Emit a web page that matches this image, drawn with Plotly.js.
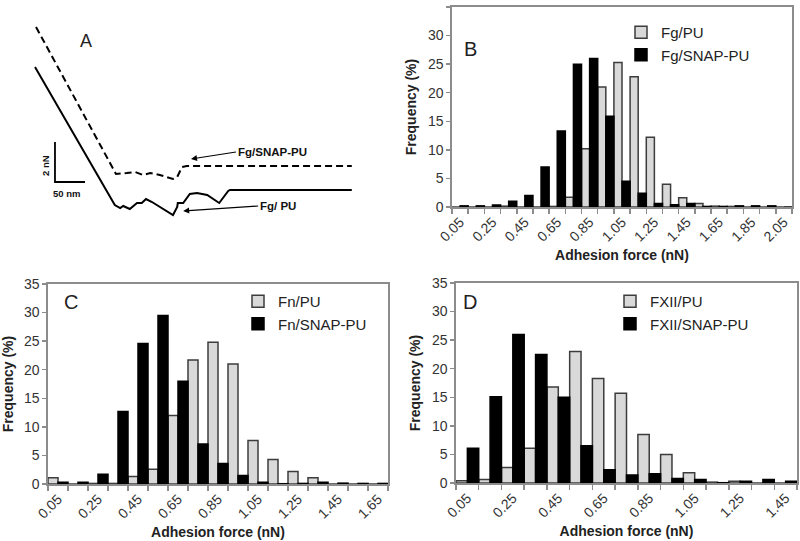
<!DOCTYPE html>
<html><head><meta charset="utf-8">
<script src="https://cdn.plot.ly/plotly-3.0.1.min.js"></script>
<style>html,body{margin:0;padding:0;background:#fff}#chart{width:800px;height:541px}</style>
</head><body><div id="chart"></div>
<script>
// ---------- Panel A: AFM retraction curves (distance nm, force nN) ----------
const aSnapX = [1.7, 135, 153, 167, 180, 192, 208, 230, 237, 245, 253, 528];
const aSnapY = [8.65, 1.3, 1.35, 1.4, 1.25, 1.35, 1.25, 1.05, 1.15, 1.65, 1.7, 1.7];
const aPuX = [0, 133, 142, 147, 158, 170, 178, 185, 195, 208, 230, 237, 238, 247, 258, 270, 287, 307, 313, 322, 325, 528];
const aPuY = [6.65, -0.25, -0.4, -0.3, -0.45, -0.15, -0.15, 0.05, -0.1, -0.35, -0.75, -0.35, -0.15, -0.15, 0.3, 0.35, 0.25, -0.15, 0.1, 0.45, 0.5, 0.5];
const scaleBarX = [33.3, 33.3, 83.3];   // 50 nm horizontal
const scaleBarY = [2.9, 0.9, 0.9];      // 2 nN vertical

// ---------- Panel B: Fg ----------
const bCats = ['0.05','0.15','0.25','0.35','0.45','0.55','0.65','0.75','0.85','0.95','1.05','1.15','1.25','1.35','1.45','1.55','1.65','1.75','1.85','1.95','2.05'];
const bPU   = [0, 0, 0, 0.15, 0, 0, 0.1, 1.7, 10.2, 21.0, 25.3, 22.8, 12.2, 4.0, 1.6, 0.6, 0.15, 0.1, 0, 0, 0];
const bSNAP = [0.2, 0.2, 0.35, 1.0, 2.0, 7.0, 13.3, 25.0, 26.0, 15.9, 4.5, 2.4, 0.6, 0.4, 0.6, 0.1, 0.1, 0.2, 0.2, 0.2, 0];

// ---------- Panel C: Fn ----------
const cCats = ['0.05','0.15','0.25','0.35','0.45','0.55','0.65','0.75','0.85','0.95','1.05','1.15','1.25','1.35','1.45','1.55','1.65'];
const cPU   = [1.1, 0, 0.1, 0.1, 1.3, 2.6, 12.0, 21.7, 24.8, 21.0, 7.6, 4.3, 2.2, 1.1, 0, 0, 0];
const cSNAP = [0.3, 0.3, 1.7, 12.7, 24.6, 29.5, 18.0, 7.0, 3.6, 1.5, 0.3, 0.05, 0.1, 0.3, 0.15, 0.1, 0.1];

// ---------- Panel D: FXII ----------
const dCats = ['0.05','0.15','0.25','0.35','0.45','0.55','0.65','0.75','0.85','0.95','1.05','1.15','1.25','1.35','1.45'];
const dPU   = [0.4, 0.6, 2.7, 6.1, 16.8, 23.0, 18.3, 15.7, 8.5, 5.0, 1.8, 0.15, 0.3, 0, 0];
const dSNAP = [6.1, 15.1, 26.0, 22.5, 15.0, 6.5, 2.3, 1.4, 1.6, 0.8, 0.6, 0.05, 0.3, 0.6, 0.3];

const FONT = 'Liberation Sans, Arial, sans-serif';
const AXC = '#8c8c8c';
const LIGHT = '#d9d9d9', LIGHTLINE = '#3c3c3c';

function everyOther(cats){ return cats.map((c,i)=> i%2===0 ? c : ''); }

function px(xp){ return xp/800; }
function py(yp){ return 1 - yp/541; }

function xAxis(dom, cats, anchor){
  return {domain: dom, type:'category', categoryorder:'array', categoryarray: cats,
    tickmode:'array', tickvals: cats, ticktext: everyOther(cats), tickson:'boundaries',
    ticks:'outside', ticklen:5, tickwidth:1.5, tickcolor:AXC, tickangle:-45,
    tickfont:{family:FONT, size:14, color:'#333'},
    showline:true, linecolor:AXC, linewidth:1.6, mirror:true, showgrid:false, zeroline:false,
    anchor: anchor, range:[-0.5, cats.length-0.5], fixedrange:true,
    title:{text:'Adhesion force (nN)', font:{family:FONT, size:14, color:'#222', weight:'bold'}, standoff:6}};
}
function yAxis(dom, anchor){
  return {domain: dom, range:[0,35], tick0:0, dtick:5, ticks:'outside', ticklen:4, tickwidth:1.5, tickcolor:AXC,
    tickfont:{family:FONT, size:14, color:'#333'},
    showline:true, linecolor:AXC, linewidth:1.6, mirror:true, showgrid:false, zeroline:false,
    anchor: anchor, fixedrange:true,
    title:{text:'Frequency (%)', font:{family:FONT, size:14, color:'#222', weight:'bold'}, standoff:8}};
}
function pair(cats, pu, snap, namePU, nameSNAP, xa, ya, leg){
  return [
    {type:'bar', x:cats, y:pu, name:namePU, xaxis:xa, yaxis:ya, legend:leg,
     marker:{color:LIGHT, line:{color:LIGHTLINE, width:1.5}}, hoverinfo:'skip'},
    {type:'bar', x:cats, y:snap, name:nameSNAP, xaxis:xa, yaxis:ya, legend:leg,
     marker:{color:'#000', line:{color:'#000', width:1.5}}, hoverinfo:'skip'}
  ];
}

const traces = [
  ...pair(bCats, bPU, bSNAP, 'Fg/PU', 'Fg/SNAP-PU', 'x', 'y', 'legend'),
  ...pair(cCats, cPU, cSNAP, 'Fn/PU', 'Fn/SNAP-PU', 'x2', 'y2', 'legend2'),
  ...pair(dCats, dPU, dSNAP, 'FXII/PU', 'FXII/SNAP-PU', 'x3', 'y3', 'legend3'),
  {type:'scatter', mode:'lines', x:aSnapX, y:aSnapY, xaxis:'x4', yaxis:'y4', showlegend:false,
   line:{color:'#000', width:2, dash:'7px,4px'}, hoverinfo:'skip'},
  {type:'scatter', mode:'lines', x:aPuX, y:aPuY, xaxis:'x4', yaxis:'y4', showlegend:false,
   line:{color:'#000', width:2}, hoverinfo:'skip'},
  {type:'scatter', mode:'lines', x:scaleBarX, y:scaleBarY, xaxis:'x4', yaxis:'y4', showlegend:false,
   line:{color:'#000', width:1.8}, hoverinfo:'skip'}
];

function legend(x, y){
  return {x:x, y:y, xanchor:'left', yanchor:'top', bgcolor:'rgba(0,0,0,0)', borderwidth:0,
    font:{family:FONT, size:15, color:'#222'}, tracegroupgap:0, itemclick:false, itemdoubleclick:false};
}

const layout = {
  width:800, height:541, margin:{l:0, r:0, t:0, b:0},
  paper_bgcolor:'#fff', plot_bgcolor:'#fff',
  font:{family:FONT},
  barmode:'group', bargap:0, bargroupgap:0,
  showlegend:true,
  xaxis: xAxis([px(452), px(792)], bCats, 'y'),
  yaxis: yAxis([py(207), py(7)], 'x'),
  xaxis2: xAxis([px(48), px(388)], cCats, 'y2'),
  yaxis2: yAxis([py(484), py(284)], 'x2'),
  xaxis3: xAxis([px(456), px(797)], dCats, 'y3'),
  yaxis3: yAxis([py(483), py(283)], 'x3'),
  xaxis4: {domain:[px(20), px(370)], range:[-25, 558.33], visible:false, fixedrange:true, anchor:'y4'},
  yaxis4: {domain:[py(230), py(20)], range:[-1.5, 9], visible:false, fixedrange:true, anchor:'x4'},
  legend: legend(px(621), py(16)),
  legend2: legend(px(238), py(285)),
  legend3: legend(px(610), py(285)),
  annotations: [
    {xref:'x4', yref:'y4', x:260, y:2.05, ax:335, ay:2.4, axref:'x4', ayref:'y4', text:'Fg/SNAP-PU',
     xanchor:'left', showarrow:true, arrowhead:2, arrowsize:1, arrowwidth:1.2, arrowcolor:'#000',
     font:{family:FONT, size:11.5, color:'#111', weight:'bold'}},
    {xref:'x4', yref:'y4', x:247, y:-0.55, ax:372, ay:-0.3, axref:'x4', ayref:'y4', text:'Fg/ PU',
     xanchor:'left', showarrow:true, arrowhead:2, arrowsize:1, arrowwidth:1.2, arrowcolor:'#000',
     font:{family:FONT, size:11.5, color:'#111', weight:'bold'}},
    {xref:'x4', yref:'y4', x:16.7, y:1.7, text:'2 nN', textangle:-90, showarrow:false,
     font:{family:FONT, size:9.5, color:'#111', weight:'bold'}},
    {xref:'x4', yref:'y4', x:51.7, y:0.35, text:'50 nm', showarrow:false,
     font:{family:FONT, size:9.5, color:'#111', weight:'bold'}},
    {xref:'x4', yref:'y4', x:85, y:7.95, text:'A', showarrow:false,
     font:{family:FONT, size:18, color:'#222'}},
    {xref:'paper', yref:'paper', x:px(470), y:py(36), text:'B', showarrow:false,
     font:{family:FONT, size:20, color:'#222'}},
    {xref:'paper', yref:'paper', x:px(62), y:py(302), text:'C', showarrow:false,
     font:{family:FONT, size:20, color:'#222'}},
    {xref:'paper', yref:'paper', x:px(470), y:py(302), text:'D', showarrow:false,
     font:{family:FONT, size:20, color:'#222'}}
  ]
};

Plotly.newPlot('chart', traces, layout, {staticPlot:true, displayModeBar:false});
</script>
</body></html>
